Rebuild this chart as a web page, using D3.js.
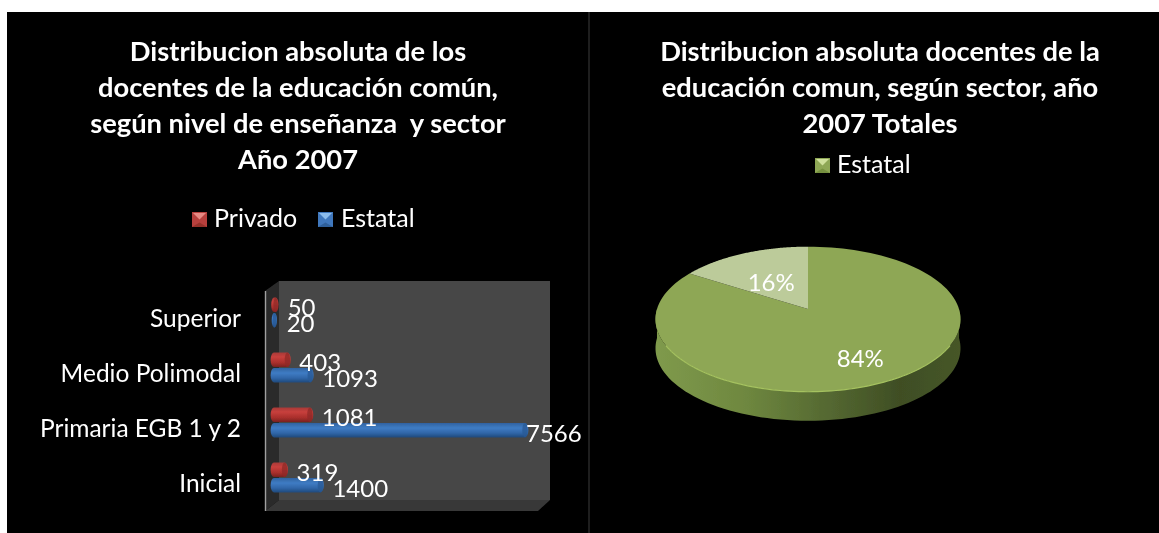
<!DOCTYPE html>
<html><head><meta charset="utf-8">
<script src="https://cdn.jsdelivr.net/npm/d3@7"></script>
<style>
html,body{margin:0;padding:0;background:#fff;overflow:hidden}
svg{display:block}
text{font-family:Lato,"Open Sans",sans-serif;fill:#fff;white-space:pre}
</style></head><body>
<div id="c"></div>
<script>
// ---- data ----
const titleLeft = ["Distribucion absoluta de los","docentes de la educación común,","según nivel de enseñanza  y sector","Año 2007"];
const titleRight = ["Distribucion absoluta docentes de la","educación comun, según sector, año","2007 Totales"];
const categories = ["Inicial","Primaria EGB 1 y 2","Medio Polimodal","Superior"];
const seriesNames = ["Privado","Estatal"];
const privado = [319,1081,403,50];
const estatal = [1400,7566,1093,20];
const pieLabels = ["84%","16%"];
const pieValues = [84,16];
const pieLegend = ["Estatal"];

const W=1159,H=533;
const svg=d3.select("#c").append("svg").attr("width",W).attr("height",H);
const defs=svg.append("defs");
defs.append("filter").attr("id","soft").attr("x","-5%").attr("y","-5%").attr("width","110%").attr("height","110%")
  .append("feGaussianBlur").attr("stdDeviation",0.55);
function grad(id,stops,horizontal){
  const g=defs.append("linearGradient").attr("id",id).attr("x1",0).attr("y1",0)
    .attr("x2",horizontal?1:0).attr("y2",horizontal?0:1);
  stops.forEach(s=>g.append("stop").attr("offset",s[0]).attr("stop-color",s[1]));
}
grad("gRed",[[0,"#a83a38"],[.3,"#c8403c"],[.7,"#a92f2c"],[1,"#7a2220"]]);
grad("gBlue",[[0,"#2f62a0"],[.35,"#3f7cc4"],[.7,"#2f66a8"],[1,"#214a7c"]]);
grad("gSide",[[0,"#7f9a4c"],[.3,"#6e873f"],[.55,"#566a32"],[.8,"#3f4e24"],[1,"#465628"]],true);

svg.append("rect").attr("x",7).attr("y",12).attr("width",W-7).attr("height",H-12).attr("fill","#000");
svg.append("line").attr("x1",589).attr("x2",589).attr("y1",12).attr("y2",H).attr("stroke","#3c3c3c");

const root=svg.append("g").attr("filter","url(#soft)");

// titles
function title(lines,cx){
  root.append("g").selectAll("text").data(lines).join("text")
    .attr("x",cx).attr("y",(d,i)=>61+i*36).attr("text-anchor","middle")
    .attr("font-size",27.3).attr("font-weight",700).text(d=>d);
}
title(titleLeft,298); title(titleRight,880);

// legend markers
function marker(g,x,y,s,base,light,dark){
  g.append("rect").attr("x",x).attr("y",y).attr("width",s).attr("height",s).attr("fill",base);
  g.append("path").attr("fill",light).attr("d",d3.line()([[x+1,y+1],[x+s-1,y+1],[x+s/2,y+s/2]]));
  g.append("path").attr("fill",dark).attr("d",d3.line()([[x,y+s],[x+s,y+s],[x+s/2,y+s/2+3]]));
}
const lg=root.append("g");
marker(lg,192,212,15,"#b8403c","#e88a84","#96302c");
lg.append("text").attr("x",214).attr("y",227).attr("font-size",25).text(seriesNames[0]);
marker(lg,318,212,15,"#3f78bd","#8cbcec","#2f5f9a");
lg.append("text").attr("x",341).attr("y",227).attr("font-size",25).text(seriesNames[1]);

// 3D box
const box=root.append("g");
const L=d3.line();
box.append("path").attr("fill","#474747").attr("d",L([[279,281],[550,281],[550,500],[279,500]])+"Z");
box.append("path").attr("fill","#2b2b2b").attr("d",L([[265,291],[279,281],[279,500],[265,511]])+"Z");
box.append("path").attr("fill","#383838").attr("d",L([[265,511],[279,500],[550,500],[538,511]])+"Z");
box.append("line").attr("x1",265.5).attr("x2",265.5).attr("y1",291).attr("y2",511).attr("stroke","#a0a0a0").attr("stroke-width",1.4);

// bars
const x=d3.scaleLinear().domain([0,7566]).range([274,525]);
const y=d3.scaleBand().domain(categories).range([505.5,285.5]).paddingInner(0.44).paddingOuter(0.22);
const inner=d3.scaleBand().domain(seriesNames).range([0,y.bandwidth()]);
const cap=d=>Math.min(3.4,(x(d)-x(0))/2+2);
const rows=seriesNames.flatMap((s,si)=>categories.map((c,i)=>({s,c,v:(si?estatal:privado)[i],fill:si?"url(#gBlue)":"url(#gRed)",rim:si?"#2a5a96":"#8f2a28"})));
const bh=inner.bandwidth();
const barG=root.append("g").selectAll("g").data(rows).join("g");
barG.append("path").attr("fill",d=>d.fill).attr("d",d=>{
  const top=y(d.c)+inner(d.s), r=cap(d.v), x0=x(0), x1=x(d.v), h=bh-1;
  return `M${x0},${top}L${x1},${top}A${r},${h/2} 0 0 1 ${x1},${top+h}L${x0},${top+h}A${r},${h/2} 0 0 1 ${x0},${top}Z`;
});
barG.append("ellipse").attr("fill",d=>d.rim).attr("opacity",.75)
  .attr("cx",d=>x(d.v)).attr("cy",d=>y(d.c)+inner(d.s)+(bh-1)/2)
  .attr("rx",d=>cap(d.v)*.8).attr("ry",(bh-1)/2);

// value labels
root.append("g").selectAll("text").data(rows).join("text")
  .attr("x",d=>Math.min(x(d.v)+12,526)).attr("y",d=>y(d.c)+inner(d.s)+bh/2+11)
  .attr("font-size",24).text(d=>d.v);

// category labels
root.append("g").selectAll("text").data(categories).join("text")
  .attr("x",241).attr("y",d=>y(d)+y.bandwidth()/2+14).attr("text-anchor","end")
  .attr("font-size",24.5).text(d=>d);

// ---- perspective pie ----
const cx=808,cy=309,C=151,B=71.1,k=0.1407,depth=29;
const proj=(a,dz=0,r=1)=>{const u=Math.sin(a)*r,v=-Math.cos(a)*r,w=1-k*v;return [cx+C*u/w,cy+B*v/w+dz];};
const pieG=root.append("g");
const arcs=d3.pie().sort(null)(pieValues);
const samples=(a0,a1,n,dz)=>d3.range(n+1).map(i=>proj(a0+(a1-a0)*i/n,dz));
const ext=Math.PI/2+Math.asin(k);
const aR=ext-0.14, aL=2*Math.PI-ext+0.14;
pieG.append("path").attr("fill","url(#gSide)")
  .attr("d",L(samples(aR,aL,80,0).concat(samples(aL,aR,80,depth)))+"Z");
const fills=["#8ea754","#bccb9a"];
pieG.selectAll("path.s").data(arcs).join("path").attr("class","s")
  .attr("fill",(d,i)=>fills[i])
  .attr("d",d=>L([[cx,cy]].concat(samples(d.startAngle,d.endAngle,120,0)))+"Z");
pieG.append("path").attr("fill","none").attr("stroke","#a5c260").attr("stroke-width",1.2)
  .attr("d",L(samples(aR+0.5,aL-0.5,80,0)));
// pie labels
const labelRadius=[.66,.54], labelDrop=[13,14];
root.append("g").selectAll("text").data(arcs).join("text")
  .attr("x",(d,i)=>proj((d.startAngle+d.endAngle)/2,0,labelRadius[i])[0])
  .attr("y",(d,i)=>proj((d.startAngle+d.endAngle)/2,labelDrop[i],labelRadius[i])[1])
  .attr("text-anchor","middle").attr("font-size",24).text((d,i)=>pieLabels[i]);

// pie legend
const lg2=root.append("g");
marker(lg2,815,158,15,"#8ea754","#cfe09c","#76903f");
lg2.append("text").attr("x",837).attr("y",173).attr("font-size",25).text(pieLegend[0]);
</script>
</body></html>
